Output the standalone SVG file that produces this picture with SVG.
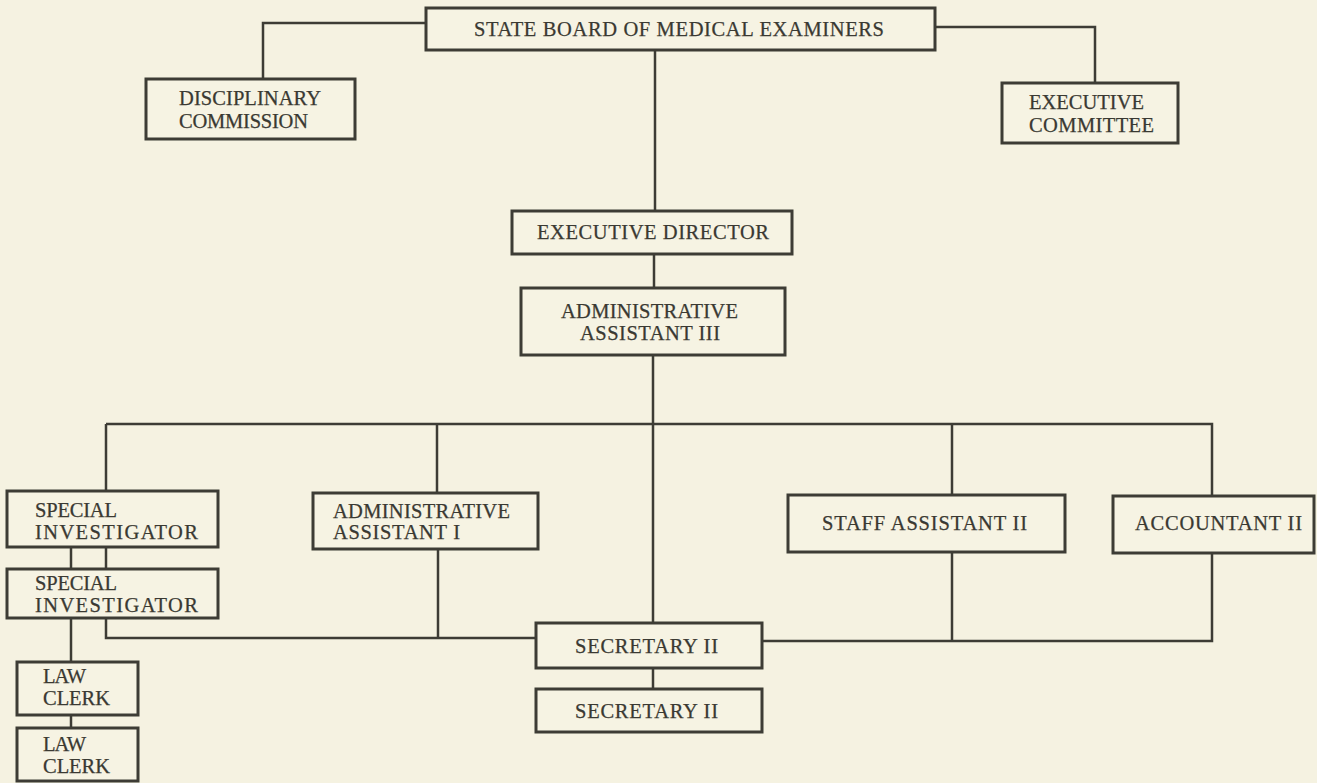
<svg xmlns="http://www.w3.org/2000/svg" width="1317" height="783" viewBox="0 0 1317 783">
<style>
.bg{fill:#f5f2e1}
.box{fill:#f6f3e3;stroke:#3d3c35;stroke-width:3}
.ln{fill:none;stroke:#3d3c35;stroke-width:2.5}
text{font-family:"Liberation Serif","DejaVu Serif",serif;font-size:20.5px;fill:#3a3932;stroke:#3a3932;stroke-width:0.25}
</style>
<rect class="bg" x="0" y="0" width="1317" height="783"/>
<g id="connectors">
<path class="ln" d="M426,23 H263 V79"/>
<path class="ln" d="M935,27 H1095 V83"/>
<path class="ln" d="M655,50 V211"/>
<path class="ln" d="M654,254 V288"/>
<path class="ln" d="M653,355 V623"/>
<path class="ln" d="M106,424 H1212 V496"/>
<path class="ln" d="M106,424 V491"/>
<path class="ln" d="M437,424 V493"/>
<path class="ln" d="M952,424 V495"/>
<path class="ln" d="M71,547 V569"/>
<path class="ln" d="M106,547 V569"/>
<path class="ln" d="M71,618 V662"/>
<path class="ln" d="M71,715 V728"/>
<path class="ln" d="M106,618 V638 H536"/>
<path class="ln" d="M438,549 V638"/>
<path class="ln" d="M762,641 H1212 V553"/>
<path class="ln" d="M952,552 V641"/>
<path class="ln" d="M653,668 V689"/>
</g>
<g id="state-board">
<rect class="box" x="426" y="8" width="509" height="42"/>
<text x="474" y="36" textLength="410" lengthAdjust="spacing">STATE BOARD OF MEDICAL EXAMINERS</text>
</g>
<g id="disciplinary-commission">
<rect class="box" x="146" y="79" width="209" height="60"/>
<text x="179" y="105" textLength="142" lengthAdjust="spacing">DISCIPLINARY</text>
<text x="179" y="128" textLength="129" lengthAdjust="spacing">COMMISSION</text>
</g>
<g id="executive-committee">
<rect class="box" x="1002" y="83" width="176" height="60"/>
<text x="1029" y="109" textLength="115" lengthAdjust="spacing">EXECUTIVE</text>
<text x="1029" y="132" textLength="125" lengthAdjust="spacing">COMMITTEE</text>
</g>
<g id="executive-director">
<rect class="box" x="512" y="211" width="280" height="43"/>
<text x="537" y="239" textLength="232" lengthAdjust="spacing">EXECUTIVE DIRECTOR</text>
</g>
<g id="administrative-assistant-iii">
<rect class="box" x="521" y="288" width="264" height="67"/>
<text x="561" y="318" textLength="177" lengthAdjust="spacing">ADMINISTRATIVE</text>
<text x="580" y="340" textLength="140" lengthAdjust="spacing">ASSISTANT III</text>
</g>
<g id="special-investigator-1">
<rect class="box" x="7" y="491" width="211" height="56"/>
<text x="35" y="517" textLength="82" lengthAdjust="spacing">SPECIAL</text>
<text x="35" y="539" textLength="163" lengthAdjust="spacing">INVESTIGATOR</text>
</g>
<g id="special-investigator-2">
<rect class="box" x="7" y="569" width="211" height="49"/>
<text x="35" y="590" textLength="82" lengthAdjust="spacing">SPECIAL</text>
<text x="35" y="612" textLength="163" lengthAdjust="spacing">INVESTIGATOR</text>
</g>
<g id="administrative-assistant-i">
<rect class="box" x="313" y="493" width="225" height="56"/>
<text x="333" y="518" textLength="177" lengthAdjust="spacing">ADMINISTRATIVE</text>
<text x="333" y="539" textLength="127" lengthAdjust="spacing">ASSISTANT I</text>
</g>
<g id="staff-assistant-ii">
<rect class="box" x="788" y="495" width="277" height="57"/>
<text x="822" y="530" textLength="205" lengthAdjust="spacing">STAFF ASSISTANT II</text>
</g>
<g id="accountant-ii">
<rect class="box" x="1113" y="496" width="201" height="57"/>
<text x="1135" y="530" textLength="167" lengthAdjust="spacing">ACCOUNTANT II</text>
</g>
<g id="secretary-ii-1">
<rect class="box" x="536" y="623" width="226" height="45"/>
<text x="575" y="653" textLength="143" lengthAdjust="spacing">SECRETARY II</text>
</g>
<g id="secretary-ii-2">
<rect class="box" x="536" y="689" width="226" height="43"/>
<text x="575" y="718" textLength="143" lengthAdjust="spacing">SECRETARY II</text>
</g>
<g id="law-clerk-1">
<rect class="box" x="17" y="662" width="121" height="53"/>
<text x="43" y="683" textLength="43" lengthAdjust="spacing">LAW</text>
<text x="43" y="705" textLength="67" lengthAdjust="spacing">CLERK</text>
</g>
<g id="law-clerk-2">
<rect class="box" x="17" y="728" width="121" height="53"/>
<text x="43" y="751" textLength="43" lengthAdjust="spacing">LAW</text>
<text x="43" y="773" textLength="67" lengthAdjust="spacing">CLERK</text>
</g>
</svg>
